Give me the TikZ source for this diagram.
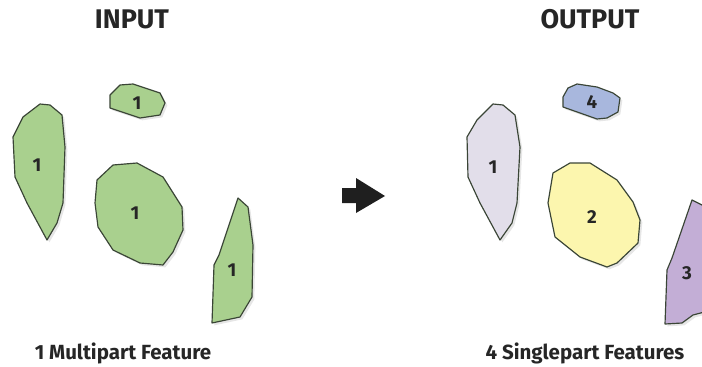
\documentclass[tikz,border=0pt]{standalone}
\usepackage{fontspec}
\setmainfont{Fira Sans}
\usetikzlibrary{shadows}
\definecolor{grn}{HTML}{A9D08E}
\definecolor{edge}{HTML}{3A4536}
\definecolor{lav}{HTML}{E2DEEA}
\definecolor{blu}{HTML}{A8B7DD}
\definecolor{yel}{HTML}{FCF6AE}
\definecolor{pur}{HTML}{C3AED6}
\begin{document}
\begin{tikzpicture}[x=0.03cm,y=-0.03cm,line join=round,line cap=round,
    part/.style={draw=edge,line width=1pt,drop shadow={shadow xshift=2pt,shadow yshift=-2pt,opacity=.2}},
    lbl/.style={font=\fontsize{16}{16}\selectfont\bfseries,text=black!85},
    ttl/.style={font=\fontsize{23}{23}\selectfont\bfseries,text=black!85},
    caption/.style={font=\fontsize{17.5}{17.5}\selectfont\bfseries,text=black!85}]
    \useasboundingbox (0,0) rectangle (702,367);
    \clip (0,0) rectangle (702,367);
    % input: one multipart feature
    \draw[part,fill=grn] (13,137) -- (23,117) -- (40,104) -- (50,105) -- (62,115) -- (65,147) -- (63,203) -- (57,223) -- (47,240) -- (27,203) -- (15,177) -- cycle;
    \draw[part,fill=grn] (110,95) -- (120,85) -- (133,84) -- (160,93) -- (165,103) -- (160,115) -- (140,118) -- (110,108) -- cycle;
    \draw[part,fill=grn] (97,180) -- (113,165) -- (137,163) -- (163,177) -- (182,207) -- (183,230) -- (173,252) -- (163,265) -- (140,263) -- (113,250) -- (98,227) -- (95,203) -- cycle;
    \draw[part,fill=grn] (238,198) -- (248,207) -- (253,245) -- (252,297) -- (240,317) -- (212,323) -- (214,265) -- (219,255) -- cycle;
    \node[lbl] (in1) at (37,165) {1};
    \node[lbl] (in2) at (137,103) {1};
    \node[lbl] (in3) at (135,213) {1};
    \node[lbl] (in4) at (232,270) {1};
    % output: four singlepart features
    \draw[part,fill=lav] (467,137) -- (477,120) -- (493,104) -- (503,105) -- (515,115) -- (520,147) -- (517,203) -- (512,223) -- (500,240) -- (480,203) -- (468,177) -- cycle;
    \draw[part,fill=blu] (563,97) -- (568,88) -- (577,84) -- (597,87) -- (613,93) -- (620,98) -- (618,112) -- (607,118) -- (597,119) -- (580,113) -- (563,107) -- cycle;
    \draw[part,fill=yel] (553,173) -- (570,163) -- (590,163) -- (617,180) -- (633,202) -- (640,220) -- (638,243) -- (617,263) -- (607,267) -- (580,257) -- (555,237) -- (548,203) -- cycle;
    \draw[part,fill=pur] (692,200) -- (712,210) -- (712,310) -- (693,315) -- (682,323) -- (665,324) -- (667,270) -- (672,258) -- cycle;
    \node[lbl] (out1) at (493,167) {1};
    \node[lbl] (out2) at (592,217) {2};
    \node[lbl] (out3) at (687,273) {3};
    \node[lbl] (out4) at (592,102) {4};
    % arrow
    \fill[black!88] (342,188) -- (356,188) -- (356,178) -- (385,196) -- (356,213) -- (356,203) -- (342,203) -- cycle;
    \node[ttl] (input) at (132,19) {INPUT};
    \node[ttl] (output) at (590,19) {OUTPUT};
    \node[caption] (multi) at (123,353) {1 Multipart Feature};
    \node[caption] (single) at (585,353) {4 Singlepart Features};
\end{tikzpicture}
\end{document}
